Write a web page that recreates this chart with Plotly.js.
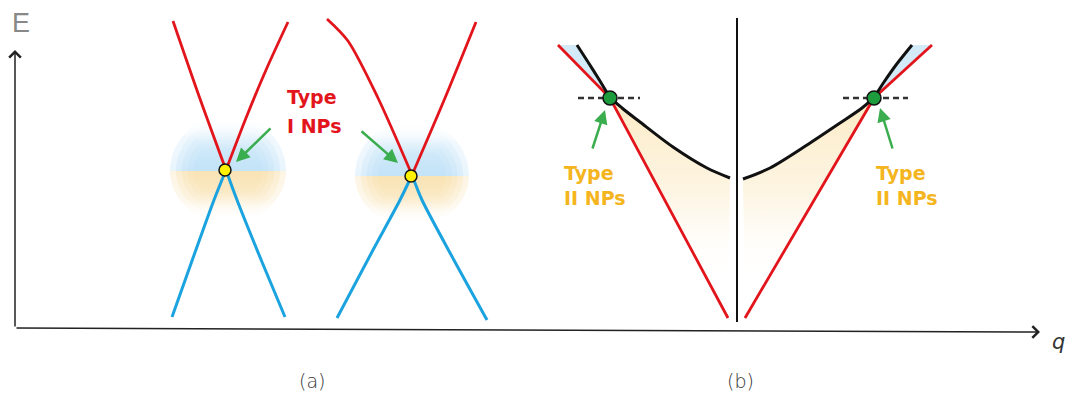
<!DOCTYPE html>
<html><head><meta charset="utf-8">
<script src="https://cdn.plot.ly/plotly-3.0.1.min.js"></script>
<style>html,body{margin:0;padding:0;background:#fff}#chart{width:1067px;height:396px}</style>
</head><body><div id="chart"></div>
<script>
// ---------- Data (schematic, in figure units: q → right, E → down on screen) ----------
// Panel (a): two Dirac-like cones, Type I nodal points
const a1RedLx = [173, 199, 226],            a1RedLy = [21, 96, 170];
const a1RedRx = [288, 266, 246, 226],       a1RedRy = [22, 70, 118, 170];
const a1BluLx = [226, 214, 193, 172],       a1BluLy = [170, 200, 258, 317];
const a1BluRx = [226, 237, 262, 285],       a1BluRy = [170, 200, 262, 317];
const a2RedLx = [327, 348, 378, 412],       a2RedLy = [19, 41, 98, 175];
const a2RedRx = [476, 445, 412],            a2RedRy = [22, 98, 175];
const a2BluLx = [412, 400, 373, 337],       a2BluLy = [175, 200, 250, 318];
const a2BluRx = [412, 422, 455, 487],       a2BluRy = [175, 200, 262, 320];
const aNodeX = [225, 411],                  aNodeY = [170, 176];
// glow half-discs: centre, half-width, height above (blue) and below (yellow)
const glowCx = [228, 412], glowCy = [171, 176], glowW = [58, 57];
const glowUp = [56, 56], glowDown = [52, 50];

// Panel (b): tilted cones, Type II nodal points
const bBlkLx = [577, 588, 600, 610, 622, 640, 673, 707, 730];
const bBlkLy = [45, 62, 81, 97, 108, 122, 147, 168, 178];
const bBlkRx = [743, 770, 807, 840, 862, 874, 884, 896, 912];
const bBlkRy = [179, 168, 145, 123, 108, 97, 82, 65, 45];
const bRedLx = [558, 610, 728],             bRedLy = [45, 98, 318];
const bRedRx = [932, 874, 745],             bRedRy = [45, 98, 318];
const bNodeX = [610, 874],                  bNodeY = [98, 98];
const bDashX0 = [578, 843], bDashX1 = [640, 908];
const bDivX = [737, 737], bDivY = [18, 322];

// Arrows (tail -> head)
const arrTailX = [272, 360, 592, 893], arrTailY = [127, 130, 150, 150];
const arrHeadX = [236, 398, 605, 880], arrHeadY = [162, 163, 110, 108];

// Labels
const labelText = ['Type', 'I NPs', 'Type', 'II NPs', 'Type', 'II NPs'];
const labelX = [285, 285, 562, 562, 874, 874];
const labelY = [97, 126, 173, 198, 173, 198];

// ---------- Styling ----------
const RED = '#e3151c', BLUE = '#1aa3df', GREEN = '#3aad4e', GOLD = '#f4b520';
const traces = [];

function halfDisc(cx, cy, w, h, up) {
  const xs = [], ys = [];
  for (let i = 0; i <= 48; i++) {
    const t = Math.PI * i / 48;
    xs.push(cx + w * Math.cos(t));
    ys.push(cy + (up ? -1 : 1) * h * Math.sin(t));
  }
  return {x: xs, y: ys};
}
const glowLayers = [1.0, 0.9, 0.8, 0.7, 0.6];
for (let g = 0; g < glowCx.length; g++) {
  glowLayers.forEach(k => {
    const pu = halfDisc(glowCx[g], glowCy[g], glowW[g] * k, glowUp[g] * k, true);
    traces.push({x: pu.x, y: pu.y, mode: 'lines', fill: 'toself', line: {width: 0}, hoverinfo: 'skip',
      fillcolor: 'rgba(190,225,247,0.2)',
      fillgradient: {type: 'vertical', start: glowCy[g], stop: glowCy[g] - glowUp[g] * k,
        colorscale: [[0, 'rgba(185,222,247,0.32)'], [0.6, 'rgba(190,225,247,0.22)'], [1, 'rgba(255,255,255,0)']]}});
    const pd = halfDisc(glowCx[g], glowCy[g], glowW[g] * k, glowDown[g] * k, false);
    traces.push({x: pd.x, y: pd.y, mode: 'lines', fill: 'toself', line: {width: 0}, hoverinfo: 'skip',
      fillcolor: 'rgba(248,224,170,0.2)',
      fillgradient: {type: 'vertical', start: glowCy[g], stop: glowCy[g] + glowDown[g] * k,
        colorscale: [[0, 'rgba(248,222,168,0.32)'], [0.6, 'rgba(248,224,172,0.2)'], [1, 'rgba(255,255,255,0)']]}});
  });
}

// (b) yellow fills between red cone and black band
const yGrad = {type: 'vertical', start: 100, stop: 285,
  colorscale: [[0, 'rgba(251,230,182,0.8)'], [0.5, 'rgba(252,238,208,0.6)'], [1, 'rgba(255,255,255,0)']]};
traces.push({
  x: bBlkLx.slice(3).concat([bRedLx[2], bRedLx[1]]),
  y: bBlkLy.slice(3).concat([bRedLy[2], bRedLy[1]]),
  mode: 'lines', fill: 'toself', line: {width: 0}, hoverinfo: 'skip',
  fillcolor: 'rgba(250,228,180,0.5)', fillgradient: yGrad
});
traces.push({
  x: bBlkRx.slice(0, 6).concat([bRedRx[1], bRedRx[2]]),
  y: bBlkRy.slice(0, 6).concat([bRedRy[1], bRedRy[2]]),
  mode: 'lines', fill: 'toself', line: {width: 0}, hoverinfo: 'skip',
  fillcolor: 'rgba(250,228,180,0.5)', fillgradient: yGrad
});
// light blue slivers above nodes
traces.push({x: [bRedLx[0], bBlkLx[0], bNodeX[0]], y: [bRedLy[0], bBlkLy[0], bNodeY[0]],
  mode: 'lines', fill: 'toself', fillcolor: 'rgba(200,230,248,0.8)', line: {width: 0}, hoverinfo: 'skip'});
traces.push({x: [bRedRx[0], bBlkRx[8], bNodeX[1]], y: [bRedRy[0], bBlkRy[8], bNodeY[1]],
  mode: 'lines', fill: 'toself', fillcolor: 'rgba(200,230,248,0.8)', line: {width: 0}, hoverinfo: 'skip'});

function line(x, y, color, w, shape, dash) {
  traces.push({x, y, mode: 'lines', line: {color, width: w, shape: shape || 'spline', smoothing: 0.8, dash: dash || 'solid'}, hoverinfo: 'skip'});
}
// panel (a) lines
line(a1RedLx, a1RedLy, RED, 2.8);
line(a1RedRx, a1RedRy, RED, 2.8);
line(a1BluLx, a1BluLy, BLUE, 3);
line(a1BluRx, a1BluRy, BLUE, 3);
line(a2RedLx, a2RedLy, RED, 2.8);
line(a2RedRx, a2RedRy, RED, 2.8);
line(a2BluLx, a2BluLy, BLUE, 3);
line(a2BluRx, a2BluRy, BLUE, 3);
// panel (b) lines
line(bRedLx, bRedLy, RED, 2.8, 'linear');
line(bRedRx, bRedRy, RED, 2.8, 'linear');
line(bBlkLx, bBlkLy, '#111', 3);
line(bBlkRx, bBlkRy, '#111', 3);
line(bDivX, bDivY, '#111', 2, 'linear');
for (let i = 0; i < bDashX0.length; i++) {
  line([bDashX0[i], bDashX1[i]], [bNodeY[i], bNodeY[i]], '#333', 2.5, 'linear', '6px,4px');
}
// nodes
traces.push({x: aNodeX, y: aNodeY, mode: 'markers', hoverinfo: 'skip',
  marker: {size: 12, color: '#fff200', line: {color: '#111', width: 1.5}}});
traces.push({x: bNodeX, y: bNodeY, mode: 'markers', hoverinfo: 'skip',
  marker: {size: 14, color: '#1e9b3c', line: {color: '#111', width: 1.5}}});

// ---------- Annotations ----------
const ann = [];
ann.push({x: 15, y: 50, ax: 15, ay: 328, xref: 'x', yref: 'y', axref: 'x', ayref: 'y',
  showarrow: true, arrowhead: 4, arrowsize: 1.5, arrowwidth: 1.5, arrowcolor: '#222', text: '', standoff: 0});
ann.push({x: 1040, y: 332, ax: 15, ay: 328, xref: 'x', yref: 'y', axref: 'x', ayref: 'y',
  showarrow: true, arrowhead: 4, arrowsize: 1.5, arrowwidth: 1.5, arrowcolor: '#222', text: '', standoff: 0});
ann.push({x: 21, y: 23, xref: 'x', yref: 'y', text: 'E', showarrow: false,
  font: {family: 'Liberation Sans Narrow, Liberation Sans', size: 27, color: '#888'}});
ann.push({x: 1058, y: 342, xref: 'x', yref: 'y', text: '<i>q</i>', showarrow: false,
  font: {family: 'DejaVu Sans', size: 21, color: '#333'}});
ann.push({x: 312, y: 381, xref: 'x', yref: 'y', text: '(a)', showarrow: false,
  font: {family: 'DejaVu Sans', size: 19, weight: 300, color: '#333'}});
ann.push({x: 740, y: 381, xref: 'x', yref: 'y', text: '(b)', showarrow: false,
  font: {family: 'DejaVu Sans', size: 19, weight: 300, color: '#333'}});
for (let i = 0; i < arrTailX.length; i++) {
  ann.push({x: arrHeadX[i], y: arrHeadY[i], ax: arrTailX[i], ay: arrTailY[i],
    xref: 'x', yref: 'y', axref: 'x', ayref: 'y', text: '', showarrow: true,
    arrowhead: 2, arrowsize: 1.1, arrowwidth: 2.5, arrowcolor: GREEN, standoff: 0});
}
for (let i = 0; i < labelText.length; i++) {
  ann.push({x: labelX[i], y: labelY[i], xref: 'x', yref: 'y', text: '<b>' + labelText[i] + '</b>',
    showarrow: false, xanchor: 'left', yanchor: 'middle',
    font: {family: 'DejaVu Sans', size: 19, color: i < 2 ? RED : GOLD}});
}

const layout = {
  width: 1067, height: 396, margin: {l: 0, r: 0, t: 0, b: 0},
  paper_bgcolor: '#fff', plot_bgcolor: '#fff', showlegend: false,
  xaxis: {range: [0, 1067], visible: false, fixedrange: true},
  yaxis: {range: [396, 0], visible: false, fixedrange: true},
  annotations: ann
};
Plotly.newPlot('chart', traces, layout, {displayModeBar: false, staticPlot: true});
</script></body></html>
